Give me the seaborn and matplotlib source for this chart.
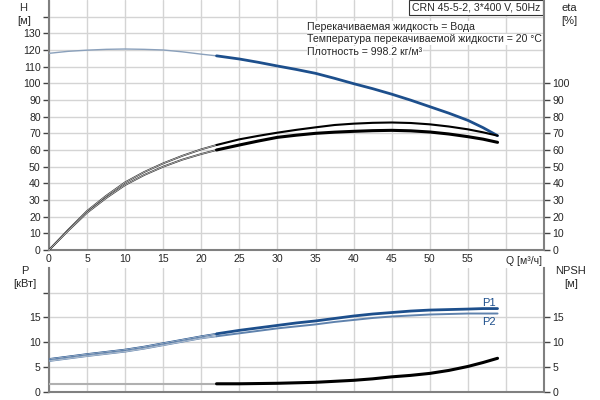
import pandas as pd
import matplotlib
matplotlib.use("Agg")
import matplotlib.pyplot as plt
import seaborn as sns

# curve data
q_h = [0, 2.5, 5, 7.5, 10, 12.5, 15, 17.5, 20, 22, 25, 27.5, 30, 32.5, 35, 37.5, 40,
       42.5, 45, 47.5, 50, 52.5, 55, 57, 58.9]
head = [118, 119.2, 119.9, 120.4, 120.6, 120.4, 120, 118.9, 117.5, 116.5, 114.6, 112.6, 110.4,
        108.3, 106, 103, 99.8, 96.8, 93.5, 89.9, 86, 82.1, 77.8, 73.4, 68.6]

q_eta = [0, 2.5, 5, 7.5, 10, 12.5, 15, 17.5, 20, 22, 25, 27.5, 30, 32.5, 35, 37.5, 40,
         42.5, 45, 47.5, 50, 52.5, 55, 57, 58.9]
eta_upper = [0, 12, 23.4, 32.5, 40.6, 46.8, 52, 56.5, 60.4, 63, 66.4, 68.5, 70.4, 72.1, 73.6,
             75, 75.8, 76.3, 76.5, 76.2, 75.4, 74.1, 72.4, 70.6, 68.6]
eta_lower = [0, 11.5, 22.4, 31.2, 39, 45, 50, 54.2, 57.6, 60, 63, 65.4, 67.6, 68.9, 70,
             70.7, 71.2, 71.6, 71.8, 71.5, 70.8, 69.6, 68, 66.5, 64.6]

q_p = [0, 2.5, 5, 7.5, 10, 12.5, 15, 17.5, 20, 22, 25, 27.5, 30, 32.5, 35, 37.5, 40,
       42.5, 45, 47.5, 50, 52.5, 55, 57, 58.9]
p1 = [6.6, 7.1, 7.6, 8.05, 8.5, 9.1, 9.8, 10.5, 11.2, 11.7, 12.4, 12.9, 13.4, 13.9, 14.3,
      14.8, 15.3, 15.7, 16.0, 16.3, 16.5, 16.6, 16.7, 16.8, 16.8]
p2 = [6.2, 6.7, 7.2, 7.65, 8.1, 8.7, 9.4, 10.1, 10.8, 11.2, 11.8, 12.3, 12.8, 13.2, 13.6,
      14.1, 14.5, 14.9, 15.2, 15.4, 15.6, 15.7, 15.8, 15.8, 15.8]

q_npsh = [0, 22, 25, 27.5, 30, 32.5, 35, 37.5, 40, 42.5, 45, 47.5, 50, 52.5, 55, 57, 58.9]
npsh = [1.6, 1.6, 1.6, 1.65, 1.7, 1.8, 1.9, 2.1, 2.3, 2.6, 3.0, 3.3, 3.7, 4.3, 5.1, 5.9, 6.75]

q_ticks = [0, 5, 10, 15, 20, 25, 30, 35, 40, 45, 50, 55]
q_split = 22  # start of the operating range (curves drawn bold after this)

info_title = "CRN 45-5-2, 3*400 V, 50Hz"
info_lines = ["Перекачиваемая жидкость = Вода",
              "Температура перекачиваемой жидкости = 20 °C",
              "Плотность = 998.2 кг/м³"]

blue = "#1d4f8c"
blue_light = "#5f82ad"
spine_c = "#808080"
grid_c = "#d4d4d4"
fs_tick = 7.6
fs_lab = 8
fs_info = 7.6

sns.set_style("white")
plt.rcParams['font.family'] = ['Liberation Sans', 'DejaVu Sans']
plt.rcParams['font.size'] = fs_lab

fig = plt.figure(figsize=(6, 4), dpi=100)
ax_top = fig.add_axes([49 / 600, 1 - 250 / 400, 495 / 600, 250 / 400])
ax_bot = fig.add_axes([49 / 600, 1 - 391.7 / 400, 495 / 600, 123.7 / 400])


def draw(ax, q, vals, color, lw, thin_color, hollow=True, thin_lw=None):
    df = pd.DataFrame({"Q": q, "v": vals})
    early = df[df["Q"] <= q_split]
    late = df[df["Q"] >= q_split]
    if hollow:
        sns.lineplot(data=early, x="Q", y="v", ax=ax, color=thin_color, linewidth=1.3, zorder=3)
        sns.lineplot(data=early, x="Q", y="v", ax=ax, color="#e4e4e4", linewidth=0.4, zorder=3)
    else:
        sns.lineplot(data=early, x="Q", y="v", ax=ax, color=thin_color, linewidth=thin_lw, zorder=3)
    sns.lineplot(data=late, x="Q", y="v", ax=ax, color=color, linewidth=lw, zorder=4)
    ax.set_xlabel("")
    ax.set_ylabel("")


def style(ax, ylim, yticks, ygrid):
    ax.set_xlim(0, 65)
    ax.set_ylim(*ylim)
    ax.set_xticks(list(range(0, 65, 5)))
    ax.set_yticks(ygrid)
    ax.set_yticklabels([str(t) if t in yticks else "" for t in ygrid])
    ax.grid(True, color=grid_c, linewidth=1)
    ax.set_axisbelow(True)
    for s in ["top", "right"]:
        ax.spines[s].set_visible(False)
    for s in ["left", "bottom"]:
        ax.spines[s].set_color(spine_c)
        ax.spines[s].set_linewidth(1.5)
    ax.tick_params(axis="y", direction="out", length=4, width=1, color="#444444", pad=2, labelsize=fs_tick)


def right_axis(ax, ylim, ticks):
    tw = ax.twinx()
    tw.set_ylim(*ylim)
    tw.set_yticks(ticks)
    tw.grid(False)
    for s in ["top", "left", "bottom"]:
        tw.spines[s].set_visible(False)
    tw.spines["right"].set_color(spine_c)
    tw.spines["right"].set_linewidth(1.5)
    tw.tick_params(axis="y", direction="out", length=4, width=1, color="#444444", pad=2, labelsize=fs_tick)
    return tw


# --- top: head and efficiency
style(ax_top, (0, 150), list(range(0, 140, 10)), list(range(0, 150, 10)))
ax_top.tick_params(axis="x", length=0, pad=3, labelsize=fs_tick)
ax_top.set_xticklabels([str(t) for t in q_ticks] + [""])
ax_top.text(60, -3.5, "Q [м³/ч]", ha="left", va="top", fontsize=fs_tick)

draw(ax_top, q_h, head, blue, 2.0, "#8aa0bb", hollow=False, thin_lw=1.0)
draw(ax_top, q_eta, eta_upper, "black", 1.5, "#333333")
draw(ax_top, q_eta, eta_lower, "black", 2.2, "#333333")

ax_eta = right_axis(ax_top, (0, 150), list(range(0, 110, 10)))

fig.text(23 / 600, 1 - 8 / 400, "H", ha="center", va="center", fontsize=fs_lab, color="#333333")
fig.text(24 / 600, 1 - 21 / 400, "[м]", ha="center", va="center", fontsize=fs_lab)
fig.text(569 / 600, 1 - 8 / 400, "eta", ha="center", va="center", fontsize=fs_lab)
fig.text(569 / 600, 1 - 21 / 400, "[%]", ha="center", va="center", fontsize=fs_lab)

ax_top.text(64.5, 148.6, info_title, ha="right", va="top", fontsize=fs_tick,
            bbox=dict(boxstyle="square,pad=0.22", facecolor="white", edgecolor="#333333", linewidth=0.8))
for i, line in enumerate(info_lines):
    ax_top.text(33.9, 133.8 - i * 7.5, line, ha="left", va="center", fontsize=fs_info,
                bbox=dict(boxstyle="square,pad=0.05", facecolor="white", edgecolor="none"))

# --- bottom: power and NPSH
style(ax_bot, (0, 25), [0, 5, 10, 15], [0, 5, 10, 15, 20])
ax_bot.tick_params(axis="x", length=0, labelbottom=False)

draw(ax_bot, q_p, p2, blue_light, 1.4, blue_light)
draw(ax_bot, q_p, p1, blue, 2.0, blue)
draw(ax_bot, q_npsh, npsh, "black", 2.2, "#b0b0b0", hollow=False, thin_lw=1.5)

ax_bot.text(57.8, 18.0, "P1", ha="center", va="center", fontsize=fs_lab, color=blue)
ax_bot.text(57.8, 14.0, "P2", ha="center", va="center", fontsize=fs_lab, color=blue)

ax_npsh = right_axis(ax_bot, (0, 25), [0, 5, 10, 15])

fig.text(25 / 600, 1 - 271 / 400, "P", ha="center", va="center", fontsize=fs_lab)
fig.text(25 / 600, 1 - 284 / 400, "[кВт]", ha="center", va="center", fontsize=fs_lab)
fig.text(571 / 600, 1 - 271 / 400, "NPSH", ha="center", va="center", fontsize=fs_lab)
fig.text(571 / 600, 1 - 284 / 400, "[м]", ha="center", va="center", fontsize=fs_lab)

fig.savefig("out.png", dpi=100)
